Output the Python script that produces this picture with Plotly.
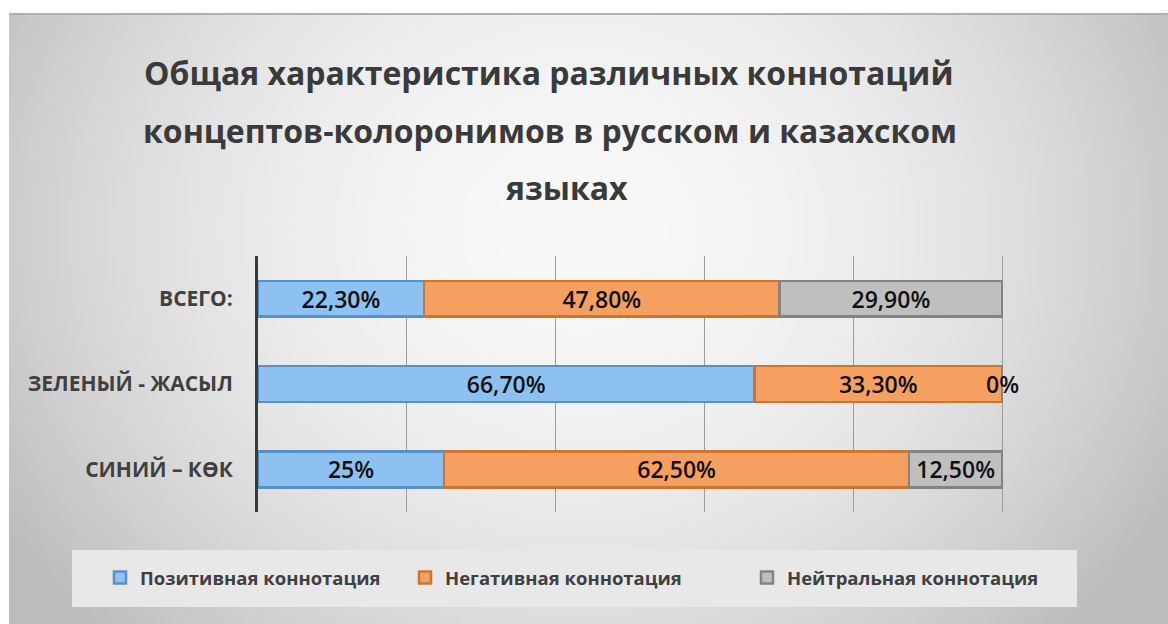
import base64
import struct
import zlib

import numpy as np
import plotly.graph_objects as go

# ---- data -------------------------------------------------------------
categories = ["СИНИЙ – КӨК", "ЗЕЛЕНЫЙ - ЖАСЫЛ", "ВСЕГО:"]
positive = [25.0, 66.7, 22.3]
negative = [62.5, 33.3, 47.8]
neutral = [12.5, 0.0, 29.9]
series_names = ["Позитивная коннотация", "Негативная коннотация", "Нейтральная коннотация"]
title_lines = [
    "Общая характеристика различных коннотаций",
    "концептов-колоронимов в русском и казахском",
    "языках",
]

# ---- page geometry (pixels) ------------------------------------------
W, H = 1168, 624
ML, MR, MT, MB = 258, 17, 256, 112
PW, PH = W - ML - MR, H - MT - MB

FONT = "Open Sans, sans-serif"
DARK = "#404040"


def px_x(x):
    return (x - ML) / PW


def px_y(y):
    return (H - MB - y) / PH


def pct_label(v):
    # Excel-style percent text with a decimal comma
    if float(v).is_integer():
        return f"{int(v)}%"
    return f"{v:.2f}".replace(".", ",") + "%"


def gray_png(arr):
    h, w = arr.shape
    raw = b"".join(b"\x00" + row.tobytes() for row in arr)

    def chunk(tag, data):
        return (struct.pack(">I", len(data)) + tag + data
                + struct.pack(">I", zlib.crc32(tag + data) & 0xFFFFFFFF))

    png = (b"\x89PNG\r\n\x1a\n"
           + chunk(b"IHDR", struct.pack(">IIBBBBB", w, h, 8, 0, 0, 0, 0))
           + chunk(b"IDAT", zlib.compress(raw, 9))
           + chunk(b"IEND", b""))
    return "data:image/png;base64," + base64.b64encode(png).decode()


# soft radial gray backdrop
gw, gh = 232, 122
gx = np.linspace(9, W, gw)
gy = np.linspace(13, H, gh)
XX, YY = np.meshgrid(gx, gy)
r2 = ((XX - 580) / 600) ** 2 + ((YY - 230) / 520) ** 2
shade = np.clip(248 - 47 * r2, 188, 248).astype(np.uint8)
backdrop = gray_png(shade)

styles = [
    dict(fill="#8cc1f1", line="#5a90c8"),
    dict(fill="#f5a060", line="#cc7430"),
    dict(fill="#bfbfbf", line="#838383"),
]
legend_left = [100, 405, 747]
legend_keys = ["legend", "legend2", "legend3"]
label_font = dict(family=FONT, size=23, color="#111111", weight=600)

series_values = [positive, negative, neutral]
fig = go.Figure()
for name, vals, st, lg in zip(series_names, series_values, styles, legend_keys):
    fig.add_trace(go.Bar(
        name=name,
        y=categories,
        x=[v / 100 for v in vals],
        orientation="h",
        marker=dict(color=st["fill"], line=dict(color=st["line"], width=2.5)),
        text=[pct_label(v) for v in vals],
        textposition="inside",
        insidetextanchor="middle",
        constraintext="none",
        textangle=0,
        textfont=label_font,
        legend=lg,
        hoverinfo="skip",
    ))

annotations = []
# zero-length segments still get their label, placed at the stack end
for vals_idx, vals in enumerate(series_values):
    for ci, v in enumerate(vals):
        if v == 0:
            end = sum(series_values[k][ci] for k in range(vals_idx + 1)) / 100
            annotations.append(dict(
                x=end, y=categories[ci], xref="x", yref="y",
                text=pct_label(v), showarrow=False,
                xanchor="center", yanchor="middle", font=label_font,
            ))

# three-line heading
title_centers_x = [548, 550, 567]
title_centers_y = [72, 130, 187]
for line, cx, cy in zip(title_lines, title_centers_x, title_centers_y):
    annotations.append(dict(
        x=px_x(cx), y=px_y(cy), xref="paper", yref="paper",
        text=line, showarrow=False, xanchor="center", yanchor="middle",
        font=dict(family=FONT, size=32, color="#3a3a3a", weight="bold"),
    ))

legend_common = dict(
    orientation="h",
    yanchor="middle",
    xanchor="left",
    y=px_y(578),
    bgcolor="rgba(0,0,0,0)",
    font=dict(family=FONT, size=18.5, color=DARK, weight="bold"),
    itemclick=False,
)

fig.update_layout(
    width=W,
    height=H,
    barmode="stack",
    bargap=0.58,
    paper_bgcolor="white",
    plot_bgcolor="rgba(0,0,0,0)",
    margin=dict(l=ML, r=MR, t=MT, b=MB, autoexpand=False),
    xaxis=dict(
        range=[0, 1.2],
        dtick=0.2,
        showticklabels=False,
        showgrid=True,
        gridcolor="#9c9c9c",
        gridwidth=1,
        zeroline=False,
        showline=False,
        fixedrange=True,
    ),
    yaxis=dict(
        showline=True,
        linecolor="#3a3a3a",
        linewidth=3,
        showgrid=False,
        ticks="outside",
        ticklen=18,
        tickcolor="rgba(0,0,0,0)",
        tickfont=dict(family=FONT, size=21, color=DARK, weight="bold"),
        fixedrange=True,
    ),
    legend=dict(legend_common, x=px_x(legend_left[0])),
    legend2=dict(legend_common, x=px_x(legend_left[1])),
    legend3=dict(legend_common, x=px_x(legend_left[2])),
    annotations=annotations,
    images=[dict(
        source=backdrop,
        xref="paper", yref="paper",
        x=px_x(9), y=px_y(13),
        sizex=(W - 9) / PW, sizey=(H - 13) / PH,
        xanchor="left", yanchor="top",
        sizing="stretch",
        layer="below",
    )],
    shapes=[
        # legend panel
        dict(type="rect", xref="paper", yref="paper",
             x0=px_x(72), x1=px_x(1077), y0=px_y(607), y1=px_y(550),
             fillcolor="#e8e8e8", line=dict(width=0), layer="below"),
        # shadow along the top edge of the backdrop
        dict(type="line", xref="paper", yref="paper",
             x0=px_x(9), x1=px_x(W), y0=px_y(14), y1=px_y(14),
             line=dict(color="#b0b0b0", width=2), layer="below"),
    ],
    showlegend=True,
)

fig.write_html("out.html")
